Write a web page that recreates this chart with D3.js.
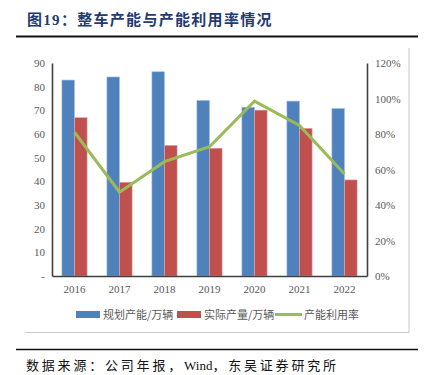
<!DOCTYPE html>
<html>
<head>
<meta charset="utf-8">
<script src="https://cdn.jsdelivr.net/npm/d3@7"></script>
<style>
  body { margin: 0; background: #fff; }
  svg { display: block; }
</style>
</head>
<body>
<div id="chart"></div>
<script>
// 数据
let years = ['2016', '2017', '2018', '2019', '2020', '2021', '2022'];
let planCap = [82.8, 84.1, 86.3, 74.2, 71.3, 73.9, 70.8];   // 规划产能/万辆
let actualOut = [66.9, 39.6, 55.2, 54.0, 70.1, 62.4, 40.6]; // 实际产量/万辆
let useRate = [0.81, 0.472, 0.644, 0.728, 0.985, 0.848, 0.575]; // 产能利用率
let leftTicks = [0, 10, 20, 30, 40, 50, 60, 70, 80, 90];
let rightTicks = [0, 0.2, 0.4, 0.6, 0.8, 1.0, 1.2];
let legendNames = ['规划产能/万辆', '实际产量/万辆', '产能利用率'];
let sourceParts = ['数据来源：公司年报，', 'Wind', '，东吴证券研究所'];

let W = 425, H = 375;
let svg = d3.select('#chart').append('svg').attr('width', W).attr('height', H);

// 标题
svg.append('text')
    .attr('x', 27).attr('y', 25)
    .attr('fill', '#1f3b6f')
    .attr('font-family', '"Liberation Serif", "Noto Sans CJK SC"')
    .attr('font-weight', 'bold')
    .attr('font-size', 15)
    .attr('letter-spacing', 1.3)
    .text('图19：整车产能与产能利用率情况');
svg.append('line').attr('x1', 16).attr('x2', 418).attr('y1', 36.5).attr('y2', 36.5)
    .attr('stroke', '#111').attr('stroke-width', 2);

// 图框（只见右边和下边）
svg.append('path').attr('d', 'M409,48V332.5H25')
    .attr('fill', 'none').attr('stroke', '#c8c8c8').attr('stroke-width', 1);

let pLeft = 52, pRight = 367, pTop = 63, pBottom = 276;

let x = d3.scaleBand().domain(years).range([pLeft, pRight]).paddingInner(0.44).paddingOuter(0.22);
let xSub = d3.scaleBand().domain([0, 1]).range([0, x.bandwidth()]);
let yL = d3.scaleLinear().domain([0, 90]).range([pBottom, pTop]);
let yR = d3.scaleLinear().domain([0, 1.2]).range([pBottom, pTop]);

let g = svg.append('g');
let colors = ['#4f81bd', '#c0504d', '#9bbb59'];

// 柱子
let groups = g.selectAll('g.year').data(years).enter().append('g')
    .attr('transform', d => 'translate(' + x(d) + ',0)');
groups.append('rect')
    .attr('x', xSub(0)).attr('width', xSub.bandwidth())
    .attr('y', (d, i) => yL(planCap[i]))
    .attr('height', (d, i) => yL(0) - yL(planCap[i]))
    .attr('fill', colors[0]).attr('stroke', '#a7c0de').attr('stroke-width', 0.6);
groups.append('rect')
    .attr('x', xSub(1)).attr('width', xSub.bandwidth())
    .attr('y', (d, i) => yL(actualOut[i]))
    .attr('height', (d, i) => yL(0) - yL(actualOut[i]))
    .attr('fill', colors[1]).attr('stroke', '#dfa8a6').attr('stroke-width', 0.6);

// 折线
let line = d3.line()
    .x((d, i) => x(years[i]) + x.bandwidth() / 2)
    .y(d => yR(d));
g.append('path').datum(useRate).attr('d', line)
    .attr('fill', 'none').attr('stroke', colors[2]).attr('stroke-width', 3)
    .attr('stroke-linejoin', 'miter');

// 坐标轴
let tickFont = '"Liberation Serif", "Times New Roman", serif';
let axL = d3.axisLeft(yL).tickValues(leftTicks).tickSize(0).tickPadding(7)
    .tickFormat(d => d === 0 ? '-' : d);
let gl = svg.append('g').attr('transform', 'translate(' + pLeft + ',0)').call(axL);
let axR = d3.axisRight(yR).tickValues(rightTicks).tickSize(0).tickPadding(8)
    .tickFormat(d3.format('.0%'));
let gr = svg.append('g').attr('transform', 'translate(' + pRight + ',0)').call(axR);
let axB = d3.axisBottom(x).tickSize(0).tickPadding(9);
let gb = svg.append('g').attr('transform', 'translate(0,' + pBottom + ')').call(axB);
[gl, gr, gb].forEach(a => {
    a.select('.domain').attr('stroke', '#404040').attr('stroke-width', 1.6);
    a.selectAll('text').attr('fill', '#595959').attr('font-family', tickFont).attr('font-size', 11);
});

// 图例
let legendX = [76, 177, 275];
let lg = svg.append('g');
legendNames.forEach((name, i) => {
    if (i < 2) {
        lg.append('rect').attr('x', legendX[i]).attr('y', 311).attr('width', 24).attr('height', 7)
            .attr('fill', colors[i]);
    } else {
        lg.append('line').attr('x1', legendX[i]).attr('x2', legendX[i] + 27)
            .attr('y1', 314.5).attr('y2', 314.5).attr('stroke', colors[i]).attr('stroke-width', 3);
    }
    lg.append('text').attr('x', legendX[i] + (i < 2 ? 27 : 29)).attr('y', 319)
        .attr('fill', '#595959').attr('font-family', '"Noto Sans CJK SC", sans-serif')
        .attr('font-size', 11).text(name);
});

// 来源
svg.append('line').attr('x1', 16).attr('x2', 418).attr('y1', 349.5).attr('y2', 349.5)
    .attr('stroke', '#111').attr('stroke-width', 1.5);
let src = svg.append('text').attr('x', 26).attr('y', 370)
    .attr('fill', '#111').attr('font-family', '"Liberation Serif", "Noto Sans CJK SC"')
    .attr('font-size', 13);
sourceParts.forEach((t, i) => {
    src.append('tspan').attr('letter-spacing', i === 1 ? 0 : 2.8).text(t);
});
</script>
</body>
</html>
